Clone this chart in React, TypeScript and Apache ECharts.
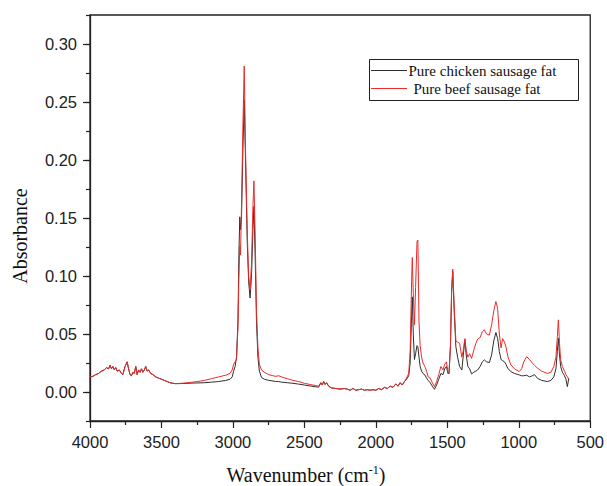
import React, { useEffect, useRef } from "react";
import * as echarts from "echarts";

// Wavenumbers (cm-1), shared by both spectra
const wavenumbers = [
  4000, 3980, 3960, 3940, 3920, 3900, 3885, 3870, 3860, 3850, 3840, 3830, 3820, 3810, 3795, 3780, 3770, 3755, 3740, 3730,
  3720, 3710, 3700, 3690, 3680, 3670, 3660, 3650, 3640, 3630, 3620, 3610, 3600, 3590, 3575, 3560, 3540, 3520, 3500, 3480,
  3460, 3440, 3420, 3400, 3350, 3300, 3250, 3200, 3150, 3100, 3050, 3020, 3005, 2995, 2985, 2975, 2965, 2958, 2952, 2947,
  2940, 2930, 2921, 2912, 2900, 2890, 2880, 2870, 2860, 2853, 2845, 2835, 2825, 2815, 2800, 2780, 2750, 2720, 2700, 2680,
  2660, 2620, 2580, 2540, 2500, 2460, 2420, 2400, 2385, 2375, 2365, 2355, 2345, 2330, 2310, 2280, 2250, 2220, 2200, 2180,
  2160, 2140, 2120, 2100, 2080, 2060, 2040, 2020, 2000, 1980, 1960, 1940, 1920, 1900, 1880, 1860, 1845, 1830, 1815, 1800,
  1785, 1770, 1760, 1750, 1745, 1738, 1730, 1722, 1712, 1706, 1698, 1690, 1680, 1670, 1657, 1645, 1634, 1620, 1605, 1590,
  1575, 1560, 1545, 1530, 1518, 1506, 1496, 1488, 1478, 1470, 1462, 1452, 1440, 1428, 1414, 1398, 1388, 1377, 1368, 1356,
  1344, 1330, 1315, 1300, 1288, 1270, 1255, 1241, 1225, 1206, 1190, 1175, 1160, 1148, 1136, 1124, 1113, 1100, 1090, 1075,
  1055, 1030, 997, 980, 965, 945, 925, 905, 890, 869, 840, 800, 775, 755, 740, 730, 723, 715, 707, 695,
  680, 670, 660, 650,
];

// Pure chicken sausage fat (black)
const chickenAbs = [
  0.013, 0.0135, 0.015, 0.016, 0.018, 0.019, 0.021, 0.02, 0.023, 0.02, 0.022, 0.019, 0.021, 0.018, 0.019, 0.016, 0.015, 0.022, 0.026, 0.02,
  0.015, 0.014, 0.017, 0.016, 0.022, 0.015, 0.019, 0.017, 0.02, 0.017, 0.019, 0.022, 0.018, 0.019, 0.016, 0.015, 0.013, 0.012, 0.011, 0.01,
  0.009, 0.008, 0.0075, 0.0072, 0.0073, 0.0076, 0.0078, 0.008, 0.0085, 0.009, 0.01, 0.011, 0.013, 0.018, 0.022, 0.03, 0.06, 0.12, 0.151, 0.14,
  0.15, 0.21, 0.252, 0.2, 0.13, 0.095, 0.081, 0.1, 0.14, 0.16, 0.12, 0.06, 0.03, 0.018, 0.0125, 0.011, 0.01, 0.0095, 0.009, 0.009,
  0.0085, 0.008, 0.0075, 0.0068, 0.006, 0.0052, 0.0045, 0.0042, 0.008, 0.006, 0.009, 0.0065, 0.008, 0.005, 0.0035, 0.003, 0.0025, 0.003, 0.0025, 0.0015,
  0.003, 0.0015, 0.002, 0.0025, 0.0015, 0.002, 0.0015, 0.002, 0.0015, 0.003, 0.002, 0.004, 0.003, 0.005, 0.004, 0.007, 0.005, 0.008, 0.006, 0.009,
  0.011, 0.014, 0.025, 0.065, 0.082, 0.05, 0.028, 0.033, 0.04, 0.039, 0.03, 0.022, 0.018, 0.016, 0.0147, 0.012, 0.01, 0.008, 0.005, 0.0023,
  0.006, 0.011, 0.016, 0.015, 0.02, 0.022, 0.016, 0.016, 0.04, 0.085, 0.104, 0.07, 0.039, 0.03, 0.022, 0.019, 0.032, 0.045, 0.032, 0.022,
  0.02, 0.0156, 0.017, 0.018, 0.019, 0.022, 0.026, 0.0277, 0.026, 0.0254, 0.032, 0.044, 0.0513, 0.046, 0.035, 0.028, 0.027, 0.026, 0.024, 0.02,
  0.0176, 0.016, 0.0147, 0.014, 0.014, 0.0145, 0.013, 0.014, 0.015, 0.0118, 0.01, 0.009, 0.01, 0.013, 0.02, 0.035, 0.0464, 0.032, 0.022, 0.017,
  0.014, 0.011, 0.0046, 0.0118,
];

// Pure beef sausage fat (red)
const beefAbs = [
  0.013, 0.0135, 0.015, 0.016, 0.018, 0.019, 0.021, 0.02, 0.023, 0.02, 0.022, 0.019, 0.021, 0.018, 0.019, 0.016, 0.015, 0.022, 0.026, 0.02,
  0.015, 0.014, 0.017, 0.016, 0.022, 0.015, 0.019, 0.017, 0.02, 0.017, 0.019, 0.022, 0.018, 0.019, 0.016, 0.015, 0.013, 0.012, 0.011, 0.01,
  0.009, 0.008, 0.0075, 0.0072, 0.0076, 0.0082, 0.009, 0.01, 0.0115, 0.013, 0.0145, 0.016, 0.019, 0.024, 0.026, 0.028, 0.055, 0.1, 0.126, 0.118,
  0.16, 0.23, 0.281, 0.21, 0.14, 0.1, 0.088, 0.11, 0.16, 0.182, 0.14, 0.07, 0.038, 0.024, 0.019, 0.017, 0.015, 0.014, 0.0135, 0.014,
  0.013, 0.0115, 0.01, 0.009, 0.0075, 0.0065, 0.0055, 0.005, 0.008, 0.006, 0.009, 0.0065, 0.008, 0.005, 0.0035, 0.003, 0.0025, 0.003, 0.0025, 0.0015,
  0.003, 0.0015, 0.002, 0.0025, 0.0015, 0.002, 0.0015, 0.002, 0.0015, 0.003, 0.002, 0.004, 0.003, 0.005, 0.004, 0.007, 0.005, 0.008, 0.006, 0.009,
  0.012, 0.016, 0.035, 0.095, 0.116, 0.085, 0.058, 0.09, 0.13, 0.131, 0.06, 0.04, 0.03, 0.025, 0.022, 0.018, 0.013, 0.012, 0.008, 0.0046,
  0.009, 0.015, 0.022, 0.019, 0.024, 0.026, 0.017, 0.016, 0.04, 0.088, 0.106, 0.075, 0.044, 0.043, 0.042, 0.03, 0.036, 0.046, 0.036, 0.03,
  0.033, 0.029, 0.036, 0.042, 0.0455, 0.047, 0.052, 0.0536, 0.05, 0.049, 0.058, 0.07, 0.078, 0.072, 0.05, 0.038, 0.046, 0.043, 0.039, 0.03,
  0.0233, 0.02, 0.0176, 0.02, 0.026, 0.0305, 0.028, 0.025, 0.023, 0.0205, 0.018, 0.016, 0.017, 0.022, 0.03, 0.048, 0.0622, 0.042, 0.028, 0.022,
  0.018, 0.015, 0.013, 0.011,
];

const yTickValues = [0, 0.05, 0.1, 0.15, 0.2, 0.25, 0.3];
const seriesNames = ["Pure chicken sausage fat", "Pure beef sausage fat"];
const seriesColors = ["#2e2e2e", "#ec2a2a"];

const AXIS = "#222";
const SANS = '"Liberation Sans", Arial, sans-serif';
const SERIF = '"Liberation Serif", "Times New Roman", serif';

export default function App() {
  const ref = useRef<HTMLDivElement>(null);
  useEffect(() => {
    if (!ref.current) return;
    const chart = echarts.init(ref.current, null, { renderer: "svg" });
    const chicken = wavenumbers.map((w, i) => [w, chickenAbs[i]]);
    const beef = wavenumbers.map((w, i) => [w, beefAbs[i]]);
    chart.setOption({
      animation: false,
      backgroundColor: "#fff",
      grid: {
        left: 90,
        right: 14,
        top: 15,
        bottom: 65,
        show: true,
        borderColor: AXIS,
        borderWidth: 1.3,
        backgroundColor: "transparent",
      },
      xAxis: {
        type: "value",
        inverse: true,
        min: 500,
        max: 4000,
        interval: 500,
        axisLine: { show: true, onZero: false, lineStyle: { color: AXIS, width: 1.3 } },
        axisTick: { show: true, inside: false, length: 7, lineStyle: { color: AXIS, width: 1.2 } },
        minorTick: { show: true, splitNumber: 2, length: 4, lineStyle: { color: AXIS, width: 1.2 } },
        axisLabel: { color: AXIS, fontFamily: SANS, fontSize: 16.5, margin: 12, formatter: (v: number) => String(v) },
        splitLine: { show: false },
        minorSplitLine: { show: false },
      },
      yAxis: [
        {
          type: "value",
          position: "left",
          min: -0.025,
          max: 0.325,
          interval: 0.025,
          axisLine: { show: true, onZero: false, lineStyle: { color: AXIS, width: 1.3 } },
          axisTick: { show: true, inside: false, length: 4, lineStyle: { color: AXIS, width: 1.2 } },
          axisLabel: {
            color: AXIS,
            fontFamily: SANS,
            fontSize: 16.5,
            margin: 13,
            formatter: (v: number) => {
              const m = Math.round(v * 1000);
              return m % 50 === 0 && m >= 0 ? v.toFixed(2) : "";
            },
          },
          splitLine: { show: false },
        },
        {
          type: "value",
          position: "left",
          min: -0.025,
          max: 0.325,
          axisLine: { show: false },
          axisTick: { show: true, inside: false, length: 7, customValues: yTickValues, lineStyle: { color: AXIS, width: 1.2 } },
          axisLabel: { show: false },
          splitLine: { show: false },
        },
      ],
      series: [
        {
          name: seriesNames[0],
          type: "line",
          data: chicken,
          showSymbol: false,
          symbol: "none",
          lineStyle: { color: seriesColors[0], width: 1 },
          z: 2,
        },
        {
          name: seriesNames[1],
          type: "line",
          data: beef,
          showSymbol: false,
          symbol: "none",
          lineStyle: { color: seriesColors[1], width: 1 },
          z: 3,
        },
      ],
      graphic: [
        {
          type: "rect",
          shape: { x: 369.5, y: 59.5, width: 209, height: 41 },
          style: { fill: "#fff", stroke: AXIS, lineWidth: 1 },
          z: 10,
        },
        {
          type: "line",
          shape: { x1: 371, y1: 70.5, x2: 407, y2: 70.5 },
          style: { stroke: seriesColors[0], lineWidth: 1 },
          z: 11,
        },
        {
          type: "text",
          x: 408.5,
          y: 71,
          style: { text: seriesNames[0], font: `15px ${SERIF}`, fill: "#111", textVerticalAlign: "middle", textAlign: "left" },
          z: 11,
        },
        {
          type: "line",
          shape: { x1: 371, y1: 88.5, x2: 407, y2: 88.5 },
          style: { stroke: seriesColors[1], lineWidth: 1 },
          z: 11,
        },
        {
          type: "text",
          x: 413.5,
          y: 89,
          style: { text: seriesNames[1], font: `15px ${SERIF}`, fill: "#111", textVerticalAlign: "middle", textAlign: "left" },
          z: 11,
        },
        {
          type: "text",
          x: 20,
          y: 236,
          rotation: Math.PI / 2,
          style: { text: "Absorbance", font: `20px ${SERIF}`, fill: "#111", textAlign: "center", textVerticalAlign: "middle" },
          z: 11,
        },
        {
          type: "text",
          x: 306,
          y: 475,
          style: {
            text: "{a|Wavenumber (cm}{s|-1}{a|)}",
            fill: "#111",
            textAlign: "center",
            textVerticalAlign: "middle",
            rich: {
              a: { fontFamily: SERIF, fontSize: 20, fill: "#111", lineHeight: 22 },
              s: { fontFamily: SERIF, fontSize: 12, fill: "#111", verticalAlign: "top", lineHeight: 22, padding: [0, 0, 9, 0] },
            },
          },
          z: 11,
        },
      ],
    });
    return () => chart.dispose();
  }, []);
  return <div ref={ref} style={{ width: 607, height: 486, position: "absolute", left: 0, top: 0 }} />;
}
